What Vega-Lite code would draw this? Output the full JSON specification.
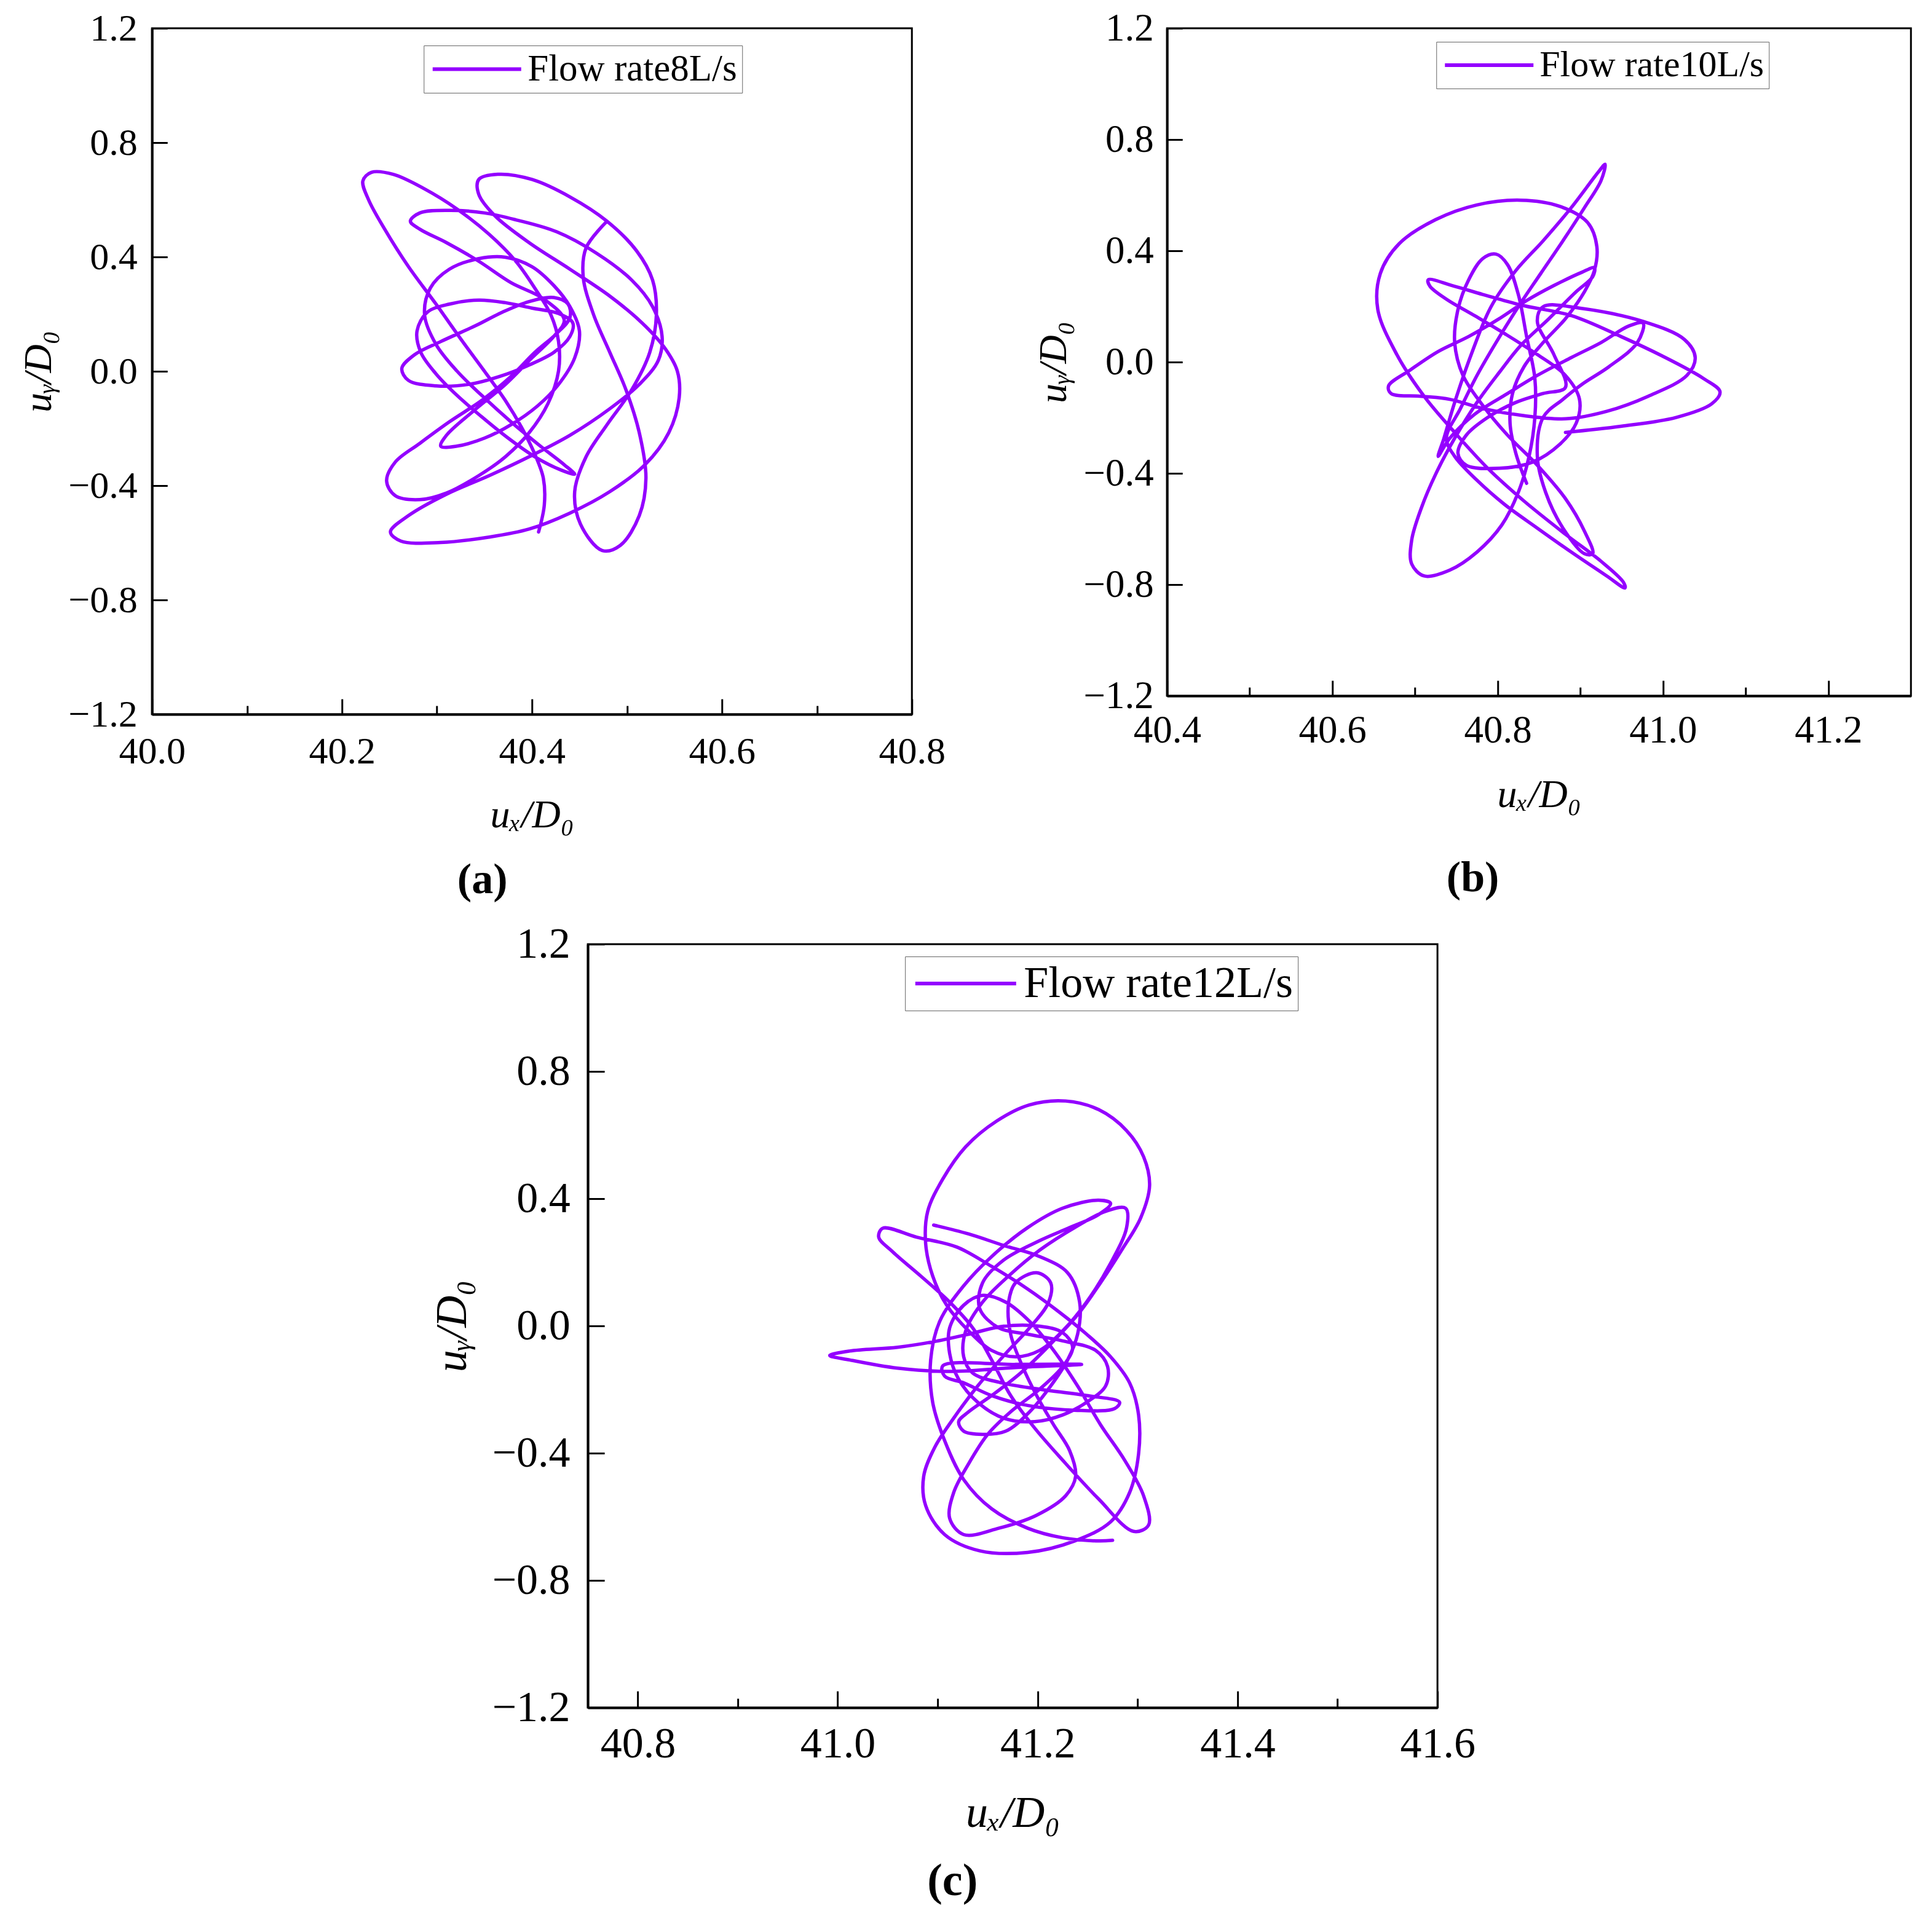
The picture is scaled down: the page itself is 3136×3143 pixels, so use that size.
{
  "$schema": "https://vega.github.io/schema/vega-lite/v6.json",
  "background": "white",
  "padding": {"left": 30, "top": 13, "right": 20, "bottom": 20},
  "config": {
    "font": "Liberation Serif",
    "view": {"stroke": "black", "strokeWidth": 3},
    "axis": {
      "grid": false,
      "labelFont": "Liberation Serif",
      "labelColor": "black",
      "labelFlush": false,
      "labelOverlap": false,
      "labelBound": false,
      "titleFont": "Liberation Serif",
      "titleFontStyle": "italic",
      "titleFontWeight": "normal",
      "titleColor": "black",
      "domainColor": "black",
      "domainWidth": 4,
      "tickColor": "black",
      "tickWidth": 3
    },
    "legend": {
      "orient": "none",
      "labelFont": "Liberation Serif",
      "labelColor": "black",
      "labelLimit": 0,
      "strokeColor": "#666666",
      "padding": 8,
      "symbolType": "M-1,0H5",
      "symbolStrokeWidth": 6
    },
    "title": {"font": "Liberation Serif", "color": "black", "fontWeight": "bold", "orient": "bottom", "anchor": "middle", "frame": "bounds"}
  },
  "datasets": {
    "a": [
      {"x":40.407,"y":-0.562},{"x":40.413,"y":-0.468},{"x":40.412,"y":-0.374},{"x":40.403,"y":-0.290},{"x":40.389,"y":-0.196},{"x":40.372,"y":-0.102},{"x":40.352,"y":-0.009},{"x":40.327,"y":0.104},{"x":40.299,"y":0.235},{"x":40.270,"y":0.366},{"x":40.245,"y":0.497},{"x":40.228,"y":0.600},{"x":40.222,"y":0.666},{"x":40.231,"y":0.696},{"x":40.254,"y":0.689},{"x":40.287,"y":0.638},{"x":40.321,"y":0.568},{"x":40.355,"y":0.479},{"x":40.383,"y":0.385},{"x":40.403,"y":0.291},{"x":40.420,"y":0.197},{"x":40.428,"y":0.104},{"x":40.428,"y":0.001},{"x":40.417,"y":-0.112},{"x":40.397,"y":-0.215},{"x":40.372,"y":-0.299},{"x":40.344,"y":-0.365},{"x":40.310,"y":-0.426},{"x":40.282,"y":-0.449},{"x":40.256,"y":-0.435},{"x":40.247,"y":-0.384},{"x":40.256,"y":-0.318},{"x":40.282,"y":-0.252},{"x":40.313,"y":-0.177},{"x":40.347,"y":-0.102},{"x":40.378,"y":-0.018},{"x":40.403,"y":0.066},{"x":40.426,"y":0.132},{"x":40.440,"y":0.188},{"x":40.438,"y":0.235},{"x":40.423,"y":0.258},{"x":40.397,"y":0.244},{"x":40.369,"y":0.207},{"x":40.341,"y":0.160},{"x":40.304,"y":0.104},{"x":40.276,"y":0.057},{"x":40.263,"y":0.010},{"x":40.270,"y":-0.032},{"x":40.299,"y":-0.051},{"x":40.333,"y":-0.046},{"x":40.366,"y":-0.018},{"x":40.395,"y":0.019},{"x":40.423,"y":0.066},{"x":40.440,"y":0.122},{"x":40.443,"y":0.169},{"x":40.428,"y":0.202},{"x":40.400,"y":0.221},{"x":40.372,"y":0.240},{"x":40.344,"y":0.249},{"x":40.313,"y":0.235},{"x":40.290,"y":0.207},{"x":40.279,"y":0.141},{"x":40.283,"y":0.066},{"x":40.299,"y":-0.009},{"x":40.321,"y":-0.084},{"x":40.347,"y":-0.159},{"x":40.375,"y":-0.234},{"x":40.403,"y":-0.299},{"x":40.431,"y":-0.346},{"x":40.445,"y":-0.360},{"x":40.434,"y":-0.327},{"x":40.409,"y":-0.262},{"x":40.378,"y":-0.177},{"x":40.347,"y":-0.084},{"x":40.321,"y":0.001},{"x":40.299,"y":0.094},{"x":40.287,"y":0.197},{"x":40.293,"y":0.291},{"x":40.313,"y":0.357},{"x":40.344,"y":0.394},{"x":40.372,"y":0.399},{"x":40.400,"y":0.366},{"x":40.423,"y":0.300},{"x":40.440,"y":0.226},{"x":40.450,"y":0.141},{"x":40.445,"y":0.047},{"x":40.428,"y":-0.046},{"x":40.406,"y":-0.121},{"x":40.378,"y":-0.187},{"x":40.350,"y":-0.234},{"x":40.321,"y":-0.262},{"x":40.304,"y":-0.262},{"x":40.310,"y":-0.224},{"x":40.338,"y":-0.140},{"x":40.372,"y":-0.046},{"x":40.400,"y":0.047},{"x":40.423,"y":0.122},{"x":40.434,"y":0.179},{"x":40.412,"y":0.254},{"x":40.378,"y":0.310},{"x":40.344,"y":0.385},{"x":40.310,"y":0.450},{"x":40.282,"y":0.497},{"x":40.272,"y":0.525},{"x":40.282,"y":0.554},{"x":40.313,"y":0.563},{"x":40.350,"y":0.554},{"x":40.383,"y":0.530},{"x":40.426,"y":0.488},{"x":40.468,"y":0.413},{"x":40.505,"y":0.319},{"x":40.527,"y":0.226},{"x":40.537,"y":0.122},{"x":40.533,"y":0.038},{"x":40.513,"y":-0.046},{"x":40.482,"y":-0.131},{"x":40.440,"y":-0.224},{"x":40.397,"y":-0.299},{"x":40.355,"y":-0.365},{"x":40.310,"y":-0.430},{"x":40.270,"y":-0.505},{"x":40.251,"y":-0.562},{"x":40.262,"y":-0.594},{"x":40.304,"y":-0.599},{"x":40.355,"y":-0.580},{"x":40.397,"y":-0.552},{"x":40.440,"y":-0.496},{"x":40.482,"y":-0.421},{"x":40.519,"y":-0.327},{"x":40.544,"y":-0.215},{"x":40.555,"y":-0.093},{"x":40.553,"y":0.001},{"x":40.539,"y":0.085},{"x":40.516,"y":0.169},{"x":40.482,"y":0.263},{"x":40.440,"y":0.357},{"x":40.397,"y":0.450},{"x":40.361,"y":0.544},{"x":40.344,"y":0.619},{"x":40.344,"y":0.671},{"x":40.364,"y":0.689},{"x":40.400,"y":0.671},{"x":40.440,"y":0.610},{"x":40.479,"y":0.525},{"x":40.510,"y":0.422},{"x":40.527,"y":0.319},{"x":40.531,"y":0.197},{"x":40.524,"y":0.066},{"x":40.505,"y":-0.065},{"x":40.479,"y":-0.187},{"x":40.457,"y":-0.299},{"x":40.445,"y":-0.421},{"x":40.451,"y":-0.534},{"x":40.474,"y":-0.627},{"x":40.493,"y":-0.609},{"x":40.513,"y":-0.505},{"x":40.520,"y":-0.374},{"x":40.513,"y":-0.215},{"x":40.499,"y":-0.065},{"x":40.482,"y":0.066},{"x":40.465,"y":0.197},{"x":40.454,"y":0.329},{"x":40.457,"y":0.432},{"x":40.479,"y":0.525}
    ],
    "b": [
      {"x":40.882,"y":-0.253},{"x":40.949,"y":-0.231},{"x":41.016,"y":-0.199},{"x":41.059,"y":-0.150},{"x":41.069,"y":-0.107},{"x":41.049,"y":-0.059},{"x":40.999,"y":0.022},{"x":40.949,"y":0.092},{"x":40.889,"y":0.167},{"x":40.828,"y":0.205},{"x":40.782,"y":0.243},{"x":40.745,"y":0.275},{"x":40.716,"y":0.296},{"x":40.718,"y":0.273},{"x":40.738,"y":0.226},{"x":40.772,"y":0.167},{"x":40.808,"y":0.103},{"x":40.848,"y":0.027},{"x":40.882,"y":-0.048},{"x":40.899,"y":-0.134},{"x":40.895,"y":-0.220},{"x":40.875,"y":-0.296},{"x":40.842,"y":-0.360},{"x":40.802,"y":-0.382},{"x":40.762,"y":-0.371},{"x":40.752,"y":-0.328},{"x":40.762,"y":-0.263},{"x":40.788,"y":-0.199},{"x":40.822,"y":-0.145},{"x":40.855,"y":-0.113},{"x":40.882,"y":-0.091},{"x":40.868,"y":0.027},{"x":40.848,"y":0.146},{"x":40.855,"y":0.199},{"x":40.899,"y":0.194},{"x":40.976,"y":0.146},{"x":41.026,"y":0.081},{"x":41.039,"y":0.016},{"x":41.029,"y":-0.048},{"x":40.982,"y":-0.123},{"x":40.932,"y":-0.177},{"x":40.882,"y":-0.204},{"x":40.832,"y":-0.193},{"x":40.782,"y":-0.167},{"x":40.742,"y":-0.134},{"x":40.708,"y":-0.123},{"x":40.671,"y":-0.113},{"x":40.668,"y":-0.086},{"x":40.695,"y":-0.027},{"x":40.728,"y":0.038},{"x":40.765,"y":0.092},{"x":40.802,"y":0.156},{"x":40.835,"y":0.221},{"x":40.868,"y":0.275},{"x":40.902,"y":0.323},{"x":40.917,"y":0.339},{"x":40.915,"y":0.307},{"x":40.895,"y":0.253},{"x":40.862,"y":0.156},{"x":40.828,"y":0.060},{"x":40.802,"y":-0.037},{"x":40.775,"y":-0.145},{"x":40.748,"y":-0.274},{"x":40.725,"y":-0.403},{"x":40.708,"y":-0.522},{"x":40.696,"y":-0.640},{"x":40.696,"y":-0.726},{"x":40.711,"y":-0.769},{"x":40.742,"y":-0.748},{"x":40.775,"y":-0.683},{"x":40.805,"y":-0.586},{"x":40.825,"y":-0.468},{"x":40.838,"y":-0.339},{"x":40.845,"y":-0.199},{"x":40.845,"y":-0.059},{"x":40.835,"y":0.092},{"x":40.825,"y":0.243},{"x":40.812,"y":0.350},{"x":40.798,"y":0.388},{"x":40.782,"y":0.372},{"x":40.765,"y":0.296},{"x":40.752,"y":0.189},{"x":40.748,"y":0.070},{"x":40.758,"y":-0.048},{"x":40.782,"y":-0.156},{"x":40.812,"y":-0.263},{"x":40.848,"y":-0.371},{"x":40.882,"y":-0.491},{"x":40.905,"y":-0.608},{"x":40.915,"y":-0.689},{"x":40.905,"y":-0.689},{"x":40.879,"y":-0.597},{"x":40.858,"y":-0.468},{"x":40.848,"y":-0.339},{"x":40.855,"y":-0.199},{"x":40.879,"y":-0.134},{"x":40.902,"y":-0.080},{"x":40.935,"y":-0.016},{"x":40.969,"y":0.070},{"x":40.976,"y":0.140},{"x":40.959,"y":0.130},{"x":40.925,"y":0.070},{"x":40.889,"y":0.016},{"x":40.848,"y":-0.048},{"x":40.812,"y":-0.113},{"x":40.772,"y":-0.188},{"x":40.742,"y":-0.274},{"x":40.728,"y":-0.339},{"x":40.735,"y":-0.274},{"x":40.748,"y":-0.145},{"x":40.768,"y":0.027},{"x":40.792,"y":0.199},{"x":40.822,"y":0.329},{"x":40.855,"y":0.436},{"x":40.889,"y":0.555},{"x":40.922,"y":0.684},{"x":40.930,"y":0.711},{"x":40.925,"y":0.652},{"x":40.905,"y":0.555},{"x":40.879,"y":0.436},{"x":40.852,"y":0.318},{"x":40.825,"y":0.199},{"x":40.798,"y":0.070},{"x":40.775,"y":-0.048},{"x":40.755,"y":-0.167},{"x":40.738,"y":-0.274},{"x":40.748,"y":-0.339},{"x":40.775,"y":-0.425},{"x":40.808,"y":-0.511},{"x":40.848,"y":-0.597},{"x":40.889,"y":-0.683},{"x":40.932,"y":-0.769},{"x":40.954,"y":-0.812},{"x":40.952,"y":-0.791},{"x":40.925,"y":-0.716},{"x":40.882,"y":-0.619},{"x":40.832,"y":-0.500},{"x":40.788,"y":-0.382},{"x":40.748,"y":-0.253},{"x":40.711,"y":-0.123},{"x":40.678,"y":0.027},{"x":40.655,"y":0.189},{"x":40.658,"y":0.318},{"x":40.681,"y":0.426},{"x":40.725,"y":0.512},{"x":40.775,"y":0.565},{"x":40.828,"y":0.582},{"x":40.875,"y":0.560},{"x":40.909,"y":0.501},{"x":40.920,"y":0.415},{"x":40.917,"y":0.329},{"x":40.905,"y":0.253},{"x":40.882,"y":0.156},{"x":40.855,"y":0.070},{"x":40.832,"y":-0.016},{"x":40.818,"y":-0.113},{"x":40.815,"y":-0.220},{"x":40.822,"y":-0.328},{"x":40.835,"y":-0.436}
    ],
    "c": [
      {"x":41.096,"y":0.317},{"x":41.131,"y":0.289},{"x":41.166,"y":0.253},{"x":41.202,"y":0.218},{"x":41.230,"y":0.167},{"x":41.242,"y":0.075},{"x":41.240,"y":-0.026},{"x":41.230,"y":-0.107},{"x":41.213,"y":-0.189},{"x":41.192,"y":-0.270},{"x":41.168,"y":-0.331},{"x":41.145,"y":-0.341},{"x":41.126,"y":-0.331},{"x":41.121,"y":-0.301},{"x":41.131,"y":-0.270},{"x":41.154,"y":-0.219},{"x":41.183,"y":-0.148},{"x":41.213,"y":-0.057},{"x":41.240,"y":0.035},{"x":41.263,"y":0.136},{"x":41.284,"y":0.238},{"x":41.303,"y":0.339},{"x":41.312,"y":0.441},{"x":41.306,"y":0.532},{"x":41.289,"y":0.614},{"x":41.261,"y":0.680},{"x":41.228,"y":0.707},{"x":41.192,"y":0.695},{"x":41.159,"y":0.644},{"x":41.128,"y":0.563},{"x":41.105,"y":0.461},{"x":41.090,"y":0.360},{"x":41.088,"y":0.258},{"x":41.095,"y":0.157},{"x":41.109,"y":0.065},{"x":41.131,"y":-0.016},{"x":41.154,"y":-0.077},{"x":41.178,"y":-0.097},{"x":41.202,"y":-0.077},{"x":41.225,"y":-0.016},{"x":41.249,"y":0.075},{"x":41.273,"y":0.197},{"x":41.289,"y":0.309},{"x":41.288,"y":0.370},{"x":41.268,"y":0.360},{"x":41.237,"y":0.309},{"x":41.202,"y":0.238},{"x":41.171,"y":0.157},{"x":41.145,"y":0.075},{"x":41.128,"y":-0.016},{"x":41.126,"y":-0.097},{"x":41.135,"y":-0.148},{"x":41.164,"y":-0.179},{"x":41.202,"y":-0.199},{"x":41.249,"y":-0.219},{"x":41.282,"y":-0.240},{"x":41.277,"y":-0.260},{"x":41.237,"y":-0.265},{"x":41.190,"y":-0.250},{"x":41.154,"y":-0.219},{"x":41.126,"y":-0.179},{"x":41.107,"y":-0.158},{"x":41.105,"y":-0.126},{"x":41.178,"y":-0.121},{"x":41.244,"y":-0.121},{"x":41.178,"y":-0.131},{"x":41.112,"y":-0.143},{"x":41.060,"y":-0.133},{"x":41.012,"y":-0.107},{"x":40.992,"y":-0.093},{"x":41.012,"y":-0.079},{"x":41.060,"y":-0.067},{"x":41.097,"y":-0.049},{"x":41.131,"y":-0.026},{"x":41.166,"y":-0.001},{"x":41.202,"y":-0.001},{"x":41.225,"y":-0.021},{"x":41.235,"y":-0.067},{"x":41.225,"y":-0.128},{"x":41.202,"y":-0.199},{"x":41.173,"y":-0.270},{"x":41.150,"y":-0.341},{"x":41.131,"y":-0.433},{"x":41.116,"y":-0.524},{"x":41.112,"y":-0.605},{"x":41.126,"y":-0.656},{"x":41.161,"y":-0.636},{"x":41.199,"y":-0.595},{"x":41.228,"y":-0.534},{"x":41.238,"y":-0.473},{"x":41.232,"y":-0.392},{"x":41.216,"y":-0.311},{"x":41.199,"y":-0.219},{"x":41.185,"y":-0.128},{"x":41.173,"y":-0.026},{"x":41.171,"y":0.075},{"x":41.178,"y":0.136},{"x":41.199,"y":0.167},{"x":41.213,"y":0.136},{"x":41.211,"y":0.075},{"x":41.192,"y":-0.006},{"x":41.168,"y":-0.087},{"x":41.140,"y":-0.189},{"x":41.116,"y":-0.290},{"x":41.097,"y":-0.382},{"x":41.086,"y":-0.473},{"x":41.088,"y":-0.565},{"x":41.107,"y":-0.656},{"x":41.142,"y":-0.707},{"x":41.190,"y":-0.712},{"x":41.237,"y":-0.676},{"x":41.273,"y":-0.616},{"x":41.292,"y":-0.524},{"x":41.301,"y":-0.402},{"x":41.301,"y":-0.280},{"x":41.292,"y":-0.179},{"x":41.273,"y":-0.097},{"x":41.249,"y":-0.026},{"x":41.221,"y":0.045},{"x":41.190,"y":0.116},{"x":41.154,"y":0.187},{"x":41.119,"y":0.248},{"x":41.079,"y":0.279},{"x":41.045,"y":0.307},{"x":41.041,"y":0.279},{"x":41.055,"y":0.233},{"x":41.083,"y":0.157},{"x":41.112,"y":0.075},{"x":41.135,"y":-0.006},{"x":41.154,"y":-0.107},{"x":41.173,"y":-0.219},{"x":41.197,"y":-0.321},{"x":41.225,"y":-0.422},{"x":41.261,"y":-0.544},{"x":41.296,"y":-0.646},{"x":41.311,"y":-0.626},{"x":41.306,"y":-0.534},{"x":41.287,"y":-0.422},{"x":41.263,"y":-0.311},{"x":41.240,"y":-0.189},{"x":41.216,"y":-0.077},{"x":41.192,"y":0.014},{"x":41.168,"y":0.075},{"x":41.145,"y":0.096},{"x":41.126,"y":0.065},{"x":41.112,"y":-0.006},{"x":41.112,"y":-0.087},{"x":41.121,"y":-0.168},{"x":41.140,"y":-0.240},{"x":41.166,"y":-0.290},{"x":41.197,"y":-0.301},{"x":41.225,"y":-0.280},{"x":41.249,"y":-0.240},{"x":41.268,"y":-0.189},{"x":41.270,"y":-0.128},{"x":41.258,"y":-0.077},{"x":41.225,"y":-0.047},{"x":41.190,"y":-0.026},{"x":41.161,"y":-0.006},{"x":41.142,"y":0.055},{"x":41.145,"y":0.136},{"x":41.166,"y":0.207},{"x":41.202,"y":0.268},{"x":41.232,"y":0.309},{"x":41.261,"y":0.350},{"x":41.273,"y":0.385},{"x":41.261,"y":0.395},{"x":41.225,"y":0.370},{"x":41.190,"y":0.309},{"x":41.154,"y":0.218},{"x":41.126,"y":0.126},{"x":41.102,"y":0.014},{"x":41.093,"y":-0.107},{"x":41.095,"y":-0.240},{"x":41.107,"y":-0.361},{"x":41.126,"y":-0.483},{"x":41.154,"y":-0.575},{"x":41.190,"y":-0.636},{"x":41.225,"y":-0.666},{"x":41.261,"y":-0.676},{"x":41.275,"y":-0.674}
    ]
  },
  "vconcat": [
    {
      "hconcat": [
        {
          "width": 1236,
          "height": 1116,
          "data": {"name": "a"},
          "mark": {"type": "line", "interpolate": "catmull-rom", "strokeWidth": 5.5, "strokeJoin": "round", "strokeCap": "round"},
          "encoding": {
            "x": {
              "field": "x", "type": "quantitative",
              "scale": {"domain": [40.0, 40.8], "nice": false, "zero": false},
              "axis": {
                "values": [40.0, 40.1, 40.2, 40.3, 40.4, 40.5, 40.6, 40.7, 40.8],
                "labelExpr": "round(datum.value * 10) % 2 == 0 ? format(datum.value, '.1f') : ''",
                "tickSize": {"condition": {"test": "round(datum.value * 10) % 2 == 0", "value": -25}, "value": -14},
                "labelPadding": 55, "labelFontSize": 62,
                "title": "uₓ/D₀", "titleFontSize": 64, "titlePadding": 30
              }
            },
            "y": {
              "field": "y", "type": "quantitative",
              "scale": {"domain": [-1.2, 1.2], "nice": false},
              "axis": {
                "values": [-1.2, -0.8, -0.4, 0, 0.4, 0.8, 1.2], "format": ".1f",
                "tickSize": -25, "labelPadding": 49, "labelFontSize": 62,
                "title": "uᵧ/D₀", "titleFontSize": 64, "titlePadding": 15
              }
            },
            "order": {"value": null},
            "color": {
              "datum": "Flow rate8L/s", "type": "nominal",
              "scale": {"range": ["#9400ff"]},
              "legend": {"title": null, "orient": "none", "legendX": 442, "legendY": 28, "labelFontSize": 61, "symbolSize": 2304, "labelOffset": 100}
            }
          },
          "title": {"text": "(a)", "fontSize": 70, "offset": 40}
        },
        {
          "width": 1210,
          "height": 1086,
          "data": {"name": "b"},
          "mark": {"type": "line", "interpolate": "catmull-rom", "strokeWidth": 5.5, "strokeJoin": "round", "strokeCap": "round"},
          "encoding": {
            "x": {
              "field": "x", "type": "quantitative",
              "scale": {"domain": [40.4, 41.3], "nice": false, "zero": false},
              "axis": {
                "values": [40.4, 40.5, 40.6, 40.7, 40.8, 40.9, 41.0, 41.1, 41.2],
                "labelExpr": "round(datum.value * 10) % 2 == 0 ? format(datum.value, '.1f') : ''",
                "tickSize": {"condition": {"test": "round(datum.value * 10) % 2 == 0", "value": -25}, "value": -14},
                "labelPadding": 50, "labelFontSize": 63,
                "title": "uₓ/D₀", "titleFontSize": 64, "titlePadding": 30
              }
            },
            "y": {
              "field": "y", "type": "quantitative",
              "scale": {"domain": [-1.2, 1.2], "nice": false},
              "axis": {
                "values": [-1.2, -0.8, -0.4, 0, 0.4, 0.8, 1.2], "format": ".1f",
                "tickSize": -25, "labelPadding": 47, "labelFontSize": 63,
                "title": "uᵧ/D₀", "titleFontSize": 64, "titlePadding": 15
              }
            },
            "order": {"value": null},
            "color": {
              "datum": "Flow rate10L/s", "type": "nominal",
              "scale": {"range": ["#9400ff"]},
              "legend": {"title": null, "orient": "none", "legendX": 438, "legendY": 22, "labelFontSize": 60, "symbolSize": 2304, "labelOffset": 100}
            }
          },
          "title": {"text": "(b)", "fontSize": 70, "offset": 70}
        }
      ],
      "spacing": 142,
      "resolve": {"scale": {"color": "independent"}}
    },
    {
      "width": 1382,
      "height": 1242,
      "data": {"name": "c"},
      "mark": {"type": "line", "interpolate": "catmull-rom", "strokeWidth": 5.5, "strokeJoin": "round", "strokeCap": "round"},
      "encoding": {
        "x": {
          "field": "x", "type": "quantitative",
          "scale": {"domain": [40.75, 41.6], "nice": false, "zero": false},
          "axis": {
            "values": [40.8, 40.9, 41.0, 41.1, 41.2, 41.3, 41.4, 41.5, 41.6],
            "labelExpr": "round(datum.value * 10) % 2 == 0 ? format(datum.value, '.1f') : ''",
            "tickSize": {"condition": {"test": "round(datum.value * 10) % 2 == 0", "value": -27}, "value": -15},
            "labelPadding": 52, "labelFontSize": 70,
            "title": "uₓ/D₀", "titleFontSize": 72, "titlePadding": 30
          }
        },
        "y": {
          "field": "y", "type": "quantitative",
          "scale": {"domain": [-1.2, 1.2], "nice": false},
          "axis": {
            "values": [-1.2, -0.8, -0.4, 0, 0.4, 0.8, 1.2], "format": ".1f",
            "tickSize": -27, "labelPadding": 56, "labelFontSize": 70,
            "title": "uᵧ/D₀", "titleFontSize": 72, "titlePadding": 28
          }
        },
        "order": {"value": null},
        "color": {
          "datum": "Flow rate12L/s", "type": "nominal",
          "scale": {"range": ["#9400ff"]},
          "legend": {"title": null, "orient": "none", "legendX": 516, "legendY": 20, "labelFontSize": 72, "symbolSize": 2990, "labelOffset": 113}
        }
      },
      "title": {"text": "(c)", "fontSize": 74, "offset": 40}
    }
  ],
  "spacing": 30,
  "center": true,
  "resolve": {"scale": {"color": "independent"}}
}
